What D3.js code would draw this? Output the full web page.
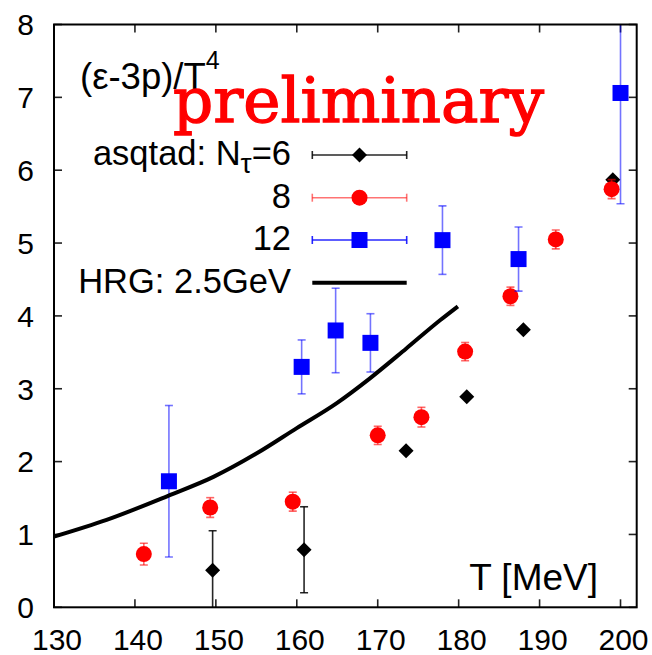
<!DOCTYPE html>
<html><head><meta charset="utf-8">
<script src="https://cdn.jsdelivr.net/npm/d3@7"></script>
<style>body{margin:0;background:#fff}svg{display:block}</style>
</head><body>
<script>
// ---- data ----
const T6  = [149.6, 160.9, 173.5, 181.0, 188.0, 199.05];
const v6  = [0.51, 0.79, 2.15, 2.89, 3.81, 5.87];
const e6  = [0.54, 0.59, 0, 0, 0, 0];

const T8  = [141.1, 149.3, 159.5, 170.0, 175.4, 180.8, 186.4, 192.0, 198.9];
const v8  = [0.73, 1.37, 1.45, 2.36, 2.61, 3.51, 4.27, 5.05, 5.74];
const e8  = [0.15, 0.135, 0.13, 0.125, 0.135, 0.125, 0.125, 0.13, 0.13];

const T12 = [144.2, 160.6, 164.8, 169.1, 178.0, 187.4, 200.0];
const v12 = [1.73, 3.30, 3.80, 3.63, 5.04, 4.78, 7.06];
const e12 = [1.04, 0.37, 0.58, 0.40, 0.47, 0.44, 1.52];

const THRG = [130, 136.5, 144.1, 149.7, 155.0, 160.0, 164.9, 169.0, 173.5, 177.7, 179.9];
const vHRG = [0.97, 1.20, 1.53, 1.79, 2.11, 2.46, 2.80, 3.14, 3.55, 3.94, 4.13];

const xTicks = [130, 140, 150, 160, 170, 180, 190, 200];
const yTicks = [0, 1, 2, 3, 4, 5, 6, 7, 8];
const legendLabels = ["asqtad: N", "8", "12", "HRG: 2.5GeV"];

// ---- layout ----
const W = 652, H = 655;
const L = 54, R = 636.7, Tp = 24.5, B = 607.3;
const FONT = "'Liberation Sans', Arial, Helvetica, sans-serif";

const svg = d3.select("body").append("svg").attr("width", W).attr("height", H);
const x = d3.scaleLinear().domain([130, 202]).range([L, R]);
const y = d3.scaleLinear().domain([0, 8]).range([B, Tp]);

svg.append("defs").append("clipPath").attr("id", "clip")
  .append("rect").attr("x", L).attr("y", Tp).attr("width", R - L).attr("height", B - Tp);

// ticks (inside, mirrored)
const tl = 8;
const tickG = svg.append("g").attr("stroke", "#222").attr("stroke-width", 1.6);
xTicks.forEach(t => {
  tickG.append("line").attr("x1", x(t)).attr("x2", x(t)).attr("y1", B).attr("y2", B - tl);
  tickG.append("line").attr("x1", x(t)).attr("x2", x(t)).attr("y1", Tp).attr("y2", Tp + tl);
});
yTicks.forEach(t => {
  tickG.append("line").attr("x1", L).attr("x2", L + tl).attr("y1", y(t)).attr("y2", y(t));
  tickG.append("line").attr("x1", R).attr("x2", R - tl).attr("y1", y(t)).attr("y2", y(t));
});

// tick labels
svg.append("g").selectAll("text").data(xTicks).join("text")
  .attr("x", d => x(d) + 3).attr("y", 650).attr("text-anchor", "middle")
  .attr("font-family", FONT).attr("font-size", 30).text(d => d);
svg.append("g").selectAll("text").data(yTicks).join("text")
  .attr("x", 34).attr("y", d => y(d)).attr("dy", "0.36em").attr("text-anchor", "end")
  .attr("font-family", FONT).attr("font-size", 30).text(d => d);

// ---- data layers ----
const plot = svg.append("g").attr("clip-path", "url(#clip)");

function errbars(T, v, e, color, op) {
  const g = plot.append("g").attr("stroke", color).attr("stroke-opacity", op).attr("stroke-width", 1.6);
  T.forEach((t, i) => {
    if (!e[i]) return;
    const xx = x(t), y1 = y(v[i] + e[i]), y2 = y(v[i] - e[i]);
    g.append("line").attr("x1", xx).attr("x2", xx).attr("y1", y1).attr("y2", y2);
    g.append("line").attr("x1", xx - 4).attr("x2", xx + 4).attr("y1", y1).attr("y2", y1);
    g.append("line").attr("x1", xx - 4).attr("x2", xx + 4).attr("y1", y2).attr("y2", y2);
  });
}

const diamond = (cx, cy, r) => `M${cx},${cy - r}L${cx + r},${cy}L${cx},${cy + r}L${cx - r},${cy}Z`;

// Nt=6
errbars(T6, v6, e6, "#000", 0.85);
plot.append("g").selectAll("path").data(T6).join("path")
  .attr("d", (d, i) => diamond(x(d), y(v6[i]), 7.5)).attr("fill", "#000");
// Nt=8
errbars(T8, v8, e8, "#ff0000", 0.6);
plot.append("g").selectAll("circle").data(T8).join("circle")
  .attr("cx", d => x(d)).attr("cy", (d, i) => y(v8[i])).attr("r", 8).attr("fill", "#ff0000");
// Nt=12
errbars(T12, v12, e12, "#0000ff", 0.55);
plot.append("g").selectAll("rect").data(T12).join("rect")
  .attr("x", d => x(d) - 8).attr("y", (d, i) => y(v12[i]) - 8).attr("width", 16).attr("height", 16)
  .attr("fill", "#0000ff");
// HRG
plot.append("path").datum(THRG.map((t, i) => [t, vHRG[i]]))
  .attr("d", d3.line().x(d => x(d[0])).y(d => y(d[1])).curve(d3.curveMonotoneX))
  .attr("fill", "none").attr("stroke", "#000").attr("stroke-width", 4);

// frame
svg.append("rect").attr("x", L).attr("y", Tp).attr("width", R - L).attr("height", B - Tp)
  .attr("fill", "none").attr("stroke", "#000").attr("stroke-width", 2);

// ---- texts ----
const title = svg.append("text").attr("x", 80).attr("y", 89)
  .attr("font-family", FONT).attr("font-size", 36.5);
title.append("tspan").text("(ε-3p)/T");
title.append("tspan").attr("font-size", 25).attr("dy", -20).text("4");

svg.append("text").attr("x", 173).attr("y", 121.5)
  .attr("font-family", "'DejaVu Serif', 'Liberation Serif', serif").attr("font-size", 61)
  .attr("fill", "#ff0000").attr("stroke", "#ff0000").attr("stroke-width", 1.3)
  .attr("textLength", 371).attr("lengthAdjust", "spacingAndGlyphs")
  .text("preliminary");

svg.append("text").attr("x", 598).attr("y", 590).attr("text-anchor", "end")
  .attr("font-family", FONT).attr("font-size", 37).text("T [MeV]");

// ---- legend ----
const rows = [155, 197.7, 240, 282.7];
const lx1 = 312.3, lx2 = 406.7, lm = 359.5, textX = 291;
const lg = svg.append("g");
legendLabels.forEach((lab, i) => {
  const t = lg.append("text").attr("x", textX).attr("y", rows[i] + 10).attr("text-anchor", "end")
    .attr("font-family", FONT).attr("font-size", 34.5);
  t.append("tspan").text(lab);
  if (i === 0) {
    t.append("tspan").attr("font-size", 28).attr("dy", 8).text("τ");
    t.append("tspan").attr("dy", -8).text("=6");
  }
});
function legErr(row, color, op) {
  const g = lg.append("g").attr("stroke", color).attr("stroke-opacity", op).attr("stroke-width", 1.6);
  g.append("line").attr("x1", lx1).attr("x2", lx2).attr("y1", row).attr("y2", row);
  g.append("line").attr("x1", lx1).attr("x2", lx1).attr("y1", row - 4).attr("y2", row + 4);
  g.append("line").attr("x1", lx2).attr("x2", lx2).attr("y1", row - 4).attr("y2", row + 4);
}
legErr(rows[0], "#000", 0.85);
lg.append("path").attr("d", diamond(lm, rows[0], 7.5)).attr("fill", "#000");
legErr(rows[1], "#ff0000", 0.55);
lg.append("circle").attr("cx", lm).attr("cy", rows[1]).attr("r", 8).attr("fill", "#ff0000");
legErr(rows[2], "#0000ff", 0.85);
lg.append("rect").attr("x", lm - 8).attr("y", rows[2] - 8).attr("width", 16).attr("height", 16).attr("fill", "#0000ff");
lg.append("line").attr("x1", lx1).attr("x2", lx2).attr("y1", rows[3]).attr("y2", rows[3])
  .attr("stroke", "#000").attr("stroke-width", 4);
</script>
</body></html>
